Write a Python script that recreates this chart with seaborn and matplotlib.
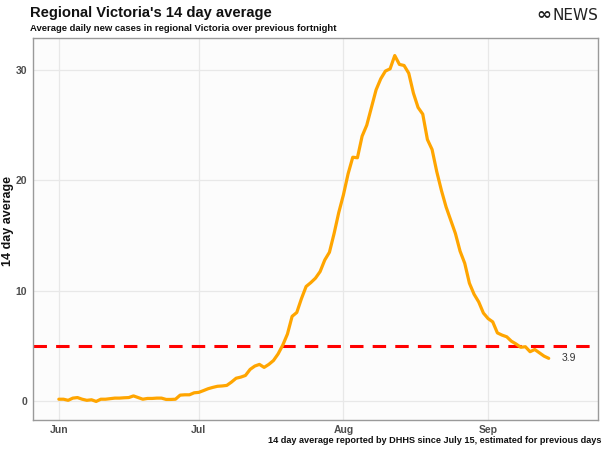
import numpy as np
import pandas as pd
import matplotlib
matplotlib.use("Agg")
import matplotlib.pyplot as plt
import matplotlib.dates as mdates
import seaborn as sns

# 14 day average of new cases, regional Victoria, one value per day from Jun 1
start_date = "2020-06-01"
avg_cases = [
    0.2, 0.2, 0.1, 0.3, 0.35, 0.2, 0.1, 0.15, 0.0, 0.2,
    0.2, 0.25, 0.3, 0.3, 0.33, 0.35, 0.5, 0.35, 0.2, 0.27,
    0.27, 0.3, 0.3, 0.18, 0.18, 0.2, 0.57, 0.6, 0.6, 0.78,
    0.82, 0.98, 1.15, 1.27, 1.37, 1.4, 1.45, 1.75, 2.1, 2.2,
    2.35, 2.9, 3.2, 3.35, 3.08, 3.35, 3.7, 4.3, 5.1, 6.1,
    7.7, 8.05, 9.3, 10.4, 10.75, 11.15, 11.75, 12.8, 13.5, 15.2,
    17.1, 18.7, 20.6, 22.1, 22.05, 24.0, 25.0, 26.6, 28.2, 29.2,
    29.9, 30.1, 31.3, 30.5, 30.4, 29.7, 27.9, 26.6, 26.0, 23.7,
    22.8, 20.8, 19.1, 17.6, 16.4, 15.2, 13.6, 12.5, 10.7, 9.7,
    9.0, 8.0, 7.5, 7.2, 6.2, 6.0, 5.85, 5.45, 5.2, 4.9,
    4.95, 4.5, 4.7, 4.4, 4.1, 3.9,
]
threshold = 5
month_ticks = ["2020-06-01", "2020-07-01", "2020-08-01", "2020-09-01"]
month_labels = ["Jun", "Jul", "Aug", "Sep"]
y_ticks = [0, 10, 20, 30]

df = pd.DataFrame({
    "date": pd.date_range(start_date, periods=len(avg_cases), freq="D"),
    "avg": avg_cases,
})

sns.set_theme(style="whitegrid")
plt.rcParams["font.family"] = ["Liberation Sans", "DejaVu Sans"]

fig = plt.figure(figsize=(6.03, 4.51), dpi=100)
ax = fig.add_axes([0.055, 0.069, 0.937, 0.847])
ax.set_facecolor("#fcfcfc")

ax.axhline(threshold, color="#ff0000", lw=2.2, ls=(0, (4.4, 3.0)), zorder=2)
sns.lineplot(data=df, x="date", y="avg", color="#ffa500", lw=2.3, ax=ax, zorder=3)

last = df.iloc[-1]
ax.annotate(f"{last['avg']:.1f}", xy=(last["date"], last["avg"]), xytext=(9, 0),
            textcoords="offset points", va="center", ha="left",
            fontsize=7.5, color="#333333")

ax.set_xlim(pd.Timestamp("2020-06-01") - pd.Timedelta(days=5.5),
            pd.Timestamp("2020-09-01") + pd.Timedelta(days=23.6))
ax.set_ylim(-1.67, 32.9)
ax.set_xticks(pd.to_datetime(month_ticks))
ax.set_xticklabels(month_labels)
ax.set_yticks(y_ticks)

ax.grid(True, color="#e8e8e8", lw=0.9)
for s in ax.spines.values():
    s.set_color("#9a9a9a")
    s.set_linewidth(1.0)
ax.tick_params(axis="both", length=3, width=0.8, color="#555555",
               labelsize=7.5, labelcolor="#4d4d4d", pad=1.5)
ax.tick_params(axis="x", pad=0.5)
for lab in ax.get_xticklabels() + ax.get_yticklabels():
    lab.set_fontweight("bold")

ax.set_xlabel("")
ax.set_ylabel("14 day average", fontsize=9, fontweight="bold", color="#111111")
ax.yaxis.set_label_coords(-0.034, 0.52)

fig.text(0.05, 0.972, "Regional Victoria's 14 day average", fontsize=10.6,
         fontweight="bold", color="#111111", va="center")
fig.text(0.05, 0.937, "Average daily new cases in regional Victoria over previous fortnight",
         fontsize=6.8, fontweight="bold", color="#111111", va="center")
fig.text(0.998, 0.024, "14 day average reported by DHHS since July 15, estimated for previous days",
         fontsize=6.6, fontweight="bold", color="#111111", ha="right", va="center")
fig.text(0.915, 0.966, "\u221e", fontsize=13, fontweight="bold", color="#222222",
         ha="right", va="center", family="DejaVu Sans")
fig.text(0.993, 0.965, "NEWS", fontsize=11, color="#222222", ha="right", va="center",
         family="Liberation Sans Narrow")

fig.savefig("out.png", dpi=100, facecolor="white")
